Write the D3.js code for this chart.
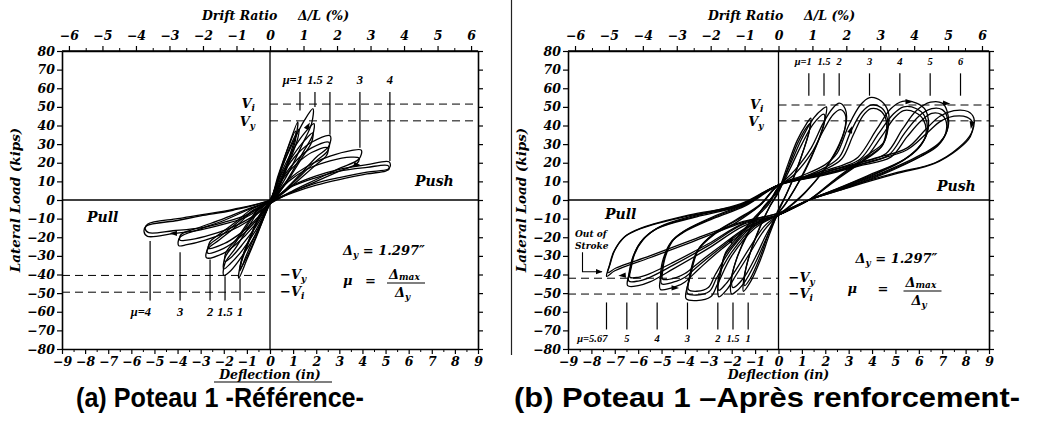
<!DOCTYPE html>
<html lang="fr">
<head>
<meta charset="UTF-8">
<title>Poteau 1 - courbes effort / déplacement</title>
<script src="https://cdn.jsdelivr.net/npm/d3@7/dist/d3.min.js"></script>
<style>
  body { margin: 0; background: #fff; }
  .tk { font-family: "DejaVu Serif", serif; font-style: italic; font-weight: bold; font-size: 12.5px; }
  .lb { font-family: "DejaVu Serif", serif; font-style: italic; font-weight: bold; }
  .mu { font-family: "Liberation Serif", serif; font-style: italic; font-weight: bold; }
  .cap { font-family: "Liberation Sans", Arial, sans-serif; font-weight: bold; font-size: 28px; }
</style>
</head>
<body>
<svg id="chart" width="1038" height="428"></svg>
<script>
// ---- axes / reference values ----
const loadTicks = [-80, -70, -60, -50, -40, -30, -20, -10, 0, 10, 20, 30, 40, 50, 60, 70, 80];
const deflTicks = [-9, -8, -7, -6, -5, -4, -3, -2, -1, 0, 1, 2, 3, 4, 5, 6, 7, 8, 9];
const driftTicks = [-6, -5, -4, -3, -2, -1, 0, 1, 2, 3, 4, 5, 6];
const inPerPct = 1.45;     // 1 % drift = 1.45 in
const deltaY = 1.297;      // yield displacement (in)

// load levels V_i, V_y, -V_y, -V_i (kips)
const vLevelsA = [51.5, 42.5, -40.5, -49.5];
const vLevelsB = [51, 42.5, -42, -50.5];

// ductility markers: mu, end of line on the loop (kips)
const muTopA = [1, 1.5, 2, 3, 4];
const muTopEndA = [48, 50, 35, 28, 21];
const muBotA = [4, 3, 2, 1.5, 1];
const muBotEndA = [-22, -28, -32, -41, -42];
const muTopB = [1, 1.5, 2, 3, 4, 5, 6];
const muBotB = [5.67, 5, 4, 3, 2, 1.5, 1];

// ---- (a) reference column: cycles [deflection in, load kips] ----
const aMu1c1 = [[0,-1],[0.4,14],[0.8,29],[1.2,42],[1.15,36],[0.8,22],[0.4,8],[0,-1],[-0.5,-17],[-1.0,-32],[-1.35,-42],[-1.3,-36],[-0.9,-22],[-0.4,-8]];
const aMu1c2 = [[0,-1],[0.45,15],[0.85,28],[1.25,38],[1.2,33],[0.85,21],[0.4,7],[0,-1.5],[-0.5,-15],[-1.0,-29],[-1.3,-38],[-1.25,-33],[-0.85,-20],[-0.4,-7]];
const aMu1c3 = [[0,-1],[0.35,13],[0.75,27],[1.1,37],[1.1,32],[0.75,19],[0.35,6],[0,-2],[-0.45,-15],[-0.9,-28],[-1.25,-36],[-1.2,-31],[-0.8,-18],[-0.35,-6]];
const aMu15c1 = [[0,0],[0.5,17],[1.0,31],[1.5,43],[1.86,49],[1.8,41],[1.4,30],[0.9,17],[0.4,6],[0,-2],[-0.6,-18],[-1.2,-30],[-1.7,-38],[-2.0,-40.5],[-1.95,-34],[-1.5,-26],[-1.0,-16],[-0.5,-6]];
const aMu15c2 = [[0,0],[0.5,15],[1.0,27],[1.5,36],[1.9,41],[1.85,35],[1.45,26],[0.95,15],[0.45,5],[0,-2],[-0.6,-16],[-1.2,-27],[-1.7,-34],[-2.0,-37],[-1.95,-31],[-1.5,-23],[-1.0,-14],[-0.5,-5]];
const aMu15c3 = [[0,0],[0.5,14],[1.0,24],[1.5,32],[1.85,36],[1.8,31],[1.4,23],[0.9,13],[0.4,4],[0,-2],[-0.6,-14],[-1.2,-24],[-1.7,-31],[-1.95,-33],[-1.9,-28],[-1.45,-21],[-0.95,-12],[-0.45,-4]];
const aMu2c1 = [[0,0],[0.6,15],[1.2,25],[1.8,31],[2.6,34.5],[2.55,29],[2.0,23],[1.4,15],[0.7,6],[0,-2],[-0.7,-14],[-1.4,-23],[-2.0,-28.5],[-2.75,-31],[-2.7,-26.5],[-2.2,-21.5],[-1.5,-14.5],[-0.8,-6.5]];
const aMu2c2 = [[0,0],[0.6,13],[1.2,22],[1.8,28],[2.55,31],[2.5,26.5],[2.0,21],[1.4,14],[0.7,5.5],[0,-2],[-0.7,-12.5],[-1.4,-21],[-2.0,-26],[-2.7,-28.5],[-2.65,-24.5],[-2.2,-20],[-1.5,-13],[-0.8,-6]];
const aMu2c3 = [[0,0],[0.6,12],[1.2,20],[1.8,25.5],[2.5,28],[2.45,24],[2.0,19],[1.4,12.5],[0.7,5],[0,-2],[-0.7,-11.5],[-1.4,-19],[-2.0,-23.5],[-2.65,-26],[-2.6,-22.5],[-2.15,-18],[-1.5,-12],[-0.8,-5]];
const aMu3c1 = [[0,0],[0.8,11],[1.6,18],[2.6,23.5],[3.5,26.5],[3.95,26.8],[3.85,22],[3.0,17],[2.0,11],[1.0,5],[0,-2],[-0.9,-11],[-1.8,-17],[-2.8,-21.5],[-3.6,-24],[-3.95,-24.5],[-3.9,-20],[-3.0,-15.5],[-2.0,-11],[-1.0,-5.5]];
const aMu3c2 = [[0,0],[0.8,10],[1.6,16.5],[2.6,21],[3.5,23],[3.85,22.5],[3.75,19.5],[3.0,15.5],[2.0,10],[1.0,4.5],[0,-2],[-0.9,-10],[-1.8,-15.5],[-2.8,-19.5],[-3.6,-21.5],[-3.9,-21.5],[-3.85,-18.5],[-3.0,-14.5],[-2.0,-10],[-1.0,-5]];
const aMu4c1 = [[0,0],[1.0,8],[2.0,13],[3.0,16.5],[4.2,19],[5.15,20.5],[5.2,18],[5.1,16.5],[4.2,15],[3.0,12],[2.0,9],[1.0,4.5],[0,-1],[-1.0,-9],[-2.0,-13],[-3.0,-16],[-4.2,-18],[-5.3,-19.5],[-5.45,-17],[-5.35,-14],[-4.0,-11],[-3.0,-8.5],[-1.6,-5.5]];
const aMu4c2 = [[0,0],[1.0,7.5],[2.0,12],[3.0,15.5],[4.2,17.5],[5.1,18.5],[5.15,16.5],[5.0,15.5],[4.2,14],[3.0,11],[2.0,8],[1.0,4],[0,-1],[-1.0,-8],[-2.0,-12],[-3.0,-15],[-4.2,-16.5],[-5.25,-17.5],[-5.4,-15.5],[-5.3,-13],[-4.0,-10],[-3.0,-8],[-1.6,-5]];

// ---- (b) strengthened column ----
const bMu1c1 = [[0,5],[0.4,19],[0.8,32],[1.2,41],[1.38,44],[1.35,39],[1.1,28],[0.7,14],[0.3,2],[0,-6],[-0.4,-19],[-0.8,-33],[-1.2,-44],[-1.5,-49],[-1.5,-44],[-1.3,-32],[-0.9,-18],[-0.4,-4]];
const bMu1c2 = [[0,4],[0.4,17],[0.8,30],[1.2,39],[1.35,41],[1.3,36],[1.05,26],[0.65,12],[0.25,1],[0,-5],[-0.4,-17],[-0.8,-31],[-1.2,-42],[-1.45,-46],[-1.45,-41],[-1.25,-30],[-0.85,-16],[-0.35,-3]];
const bMu15c1 = [[0,6],[0.5,19],[1.0,33],[1.5,44],[1.9,49],[2.05,50],[2.0,44],[1.7,32],[1.2,18],[0.7,6],[0.3,-2],[0,-7],[-0.5,-20],[-1.0,-34],[-1.5,-45],[-1.9,-50],[-2.0,-50.5],[-2.05,-45],[-1.8,-32],[-1.3,-18],[-0.7,-5]];
const bMu15c2 = [[0,5],[0.5,17],[1.0,30],[1.5,41],[1.95,46],[1.95,41],[1.65,30],[1.15,16],[0.65,5],[0.25,-3],[0,-7],[-0.5,-18],[-1.0,-31],[-1.5,-42],[-1.95,-47],[-2.0,-42],[-1.75,-30],[-1.25,-16],[-0.65,-4]];
const bMu2c1 = [[0,7],[0.7,16],[1.4,28],[1.9,41],[2.3,49],[2.6,52],[2.85,49],[2.9,42],[2.6,30],[2.0,17],[1.2,5],[0.6,-2],[0,-8],[-0.6,-16],[-1.2,-28],[-1.8,-40],[-2.2,-48],[-2.55,-52],[-2.6,-48],[-2.45,-38],[-2.3,-30],[-1.8,-22],[-1.0,-10],[-0.4,-2]];
const bMu2c2 = [[0,7],[0.7,14],[1.4,25],[1.95,38],[2.35,46],[2.65,48.5],[2.85,46],[2.85,39],[2.55,28],[1.95,16],[1.15,4],[0.55,-3],[0,-8],[-0.6,-14],[-1.25,-26],[-1.85,-38],[-2.25,-45],[-2.55,-48.5],[-2.6,-45],[-2.45,-36],[-2.25,-28],[-1.75,-20],[-1.0,-9],[-0.4,-1]];
const bMu3c1 = [[0,8],[1.0,13],[2.0,19],[2.5,25],[3.0,40],[3.5,51],[3.9,55],[4.4,53],[4.7,47],[4.7,40],[4.5,31],[3.8,24],[2.5,12],[1.3,0],[0,-8],[-1.0,-15],[-2.0,-30],[-2.6,-45],[-2.9,-52],[-3.5,-54],[-3.95,-53],[-3.85,-44],[-3.5,-28],[-2.8,-19],[-1.8,-12],[-0.8,-3]];
const bMu3c2 = [[0,8],[1.0,12],[2.0,17.5],[2.6,23],[3.1,37],[3.55,47],[3.95,51],[4.4,49.5],[4.65,44],[4.65,37],[4.45,29.5],[3.8,23],[2.5,11.5],[1.3,0],[0,-8],[-1.0,-14],[-2.0,-28],[-2.65,-42],[-2.95,-49],[-3.5,-51],[-3.9,-50],[-3.8,-42],[-3.45,-27],[-2.75,-18],[-1.8,-11],[-0.8,-3]];
const bMu3c3 = [[0,8],[1.0,11.5],[2.0,16.5],[2.7,22],[3.2,35],[3.6,45],[3.95,49],[4.35,48],[4.6,43],[4.6,36],[4.4,28.5],[3.75,22],[2.5,11],[1.3,0],[0,-8],[-1.0,-13],[-2.0,-26],[-2.7,-40],[-3.0,-47],[-3.5,-49],[-3.85,-48],[-3.75,-40],[-3.4,-26],[-2.7,-17.5],[-1.8,-10.5],[-0.8,-2.5]];
const bMu4c1 = [[0,8],[1.5,14],[2.8,19],[3.4,23],[4.2,38],[4.8,49],[5.3,53],[5.9,52],[6.3,48],[6.4,38],[6.1,30],[5.4,22],[3.8,13],[2.3,5],[1.3,0],[0,-8],[-1.2,-15],[-2.4,-26],[-3.4,-37],[-4.0,-44],[-4.3,-46],[-5.05,-48],[-5.05,-42],[-4.97,-33.5],[-4.6,-22.7],[-4.05,-17.3],[-2.8,-10],[-1.4,-3]];
const bMu4c2 = [[0,8],[1.5,13],[2.8,18],[3.5,22],[4.3,36],[4.9,46],[5.35,50],[5.9,49],[6.25,45],[6.35,36],[6.05,29],[5.35,21.5],[3.8,12.5],[2.3,5],[1.3,0],[0,-8],[-1.2,-14],[-2.4,-25],[-3.4,-35],[-4.0,-41.5],[-4.35,-43.5],[-5.0,-45],[-5.0,-40],[-4.9,-32],[-4.55,-22],[-4.0,-16.5],[-2.8,-9.5],[-1.4,-2.5]];
const bMu4c3 = [[0,8],[1.5,12.5],[2.8,17],[3.6,21],[4.4,34],[4.95,44],[5.35,48],[5.85,47],[6.2,43],[6.3,35],[6.0,28],[5.3,21],[3.8,12],[2.3,4.5],[1.3,0],[0,-8],[-1.2,-13.5],[-2.4,-24],[-3.4,-33.5],[-4.0,-39.5],[-4.35,-41.5],[-4.95,-42.5],[-4.95,-38],[-4.85,-31],[-4.5,-21.5],[-3.95,-16],[-2.8,-9],[-1.4,-2]];
const bMu5c1 = [[0,8],[2.0,15],[3.5,20],[4.6,25],[5.3,38],[5.9,48],[6.5,52.5],[7.0,52],[7.2,48],[7.25,39],[6.9,31],[6.2,25],[4.5,15],[2.8,7],[1.3,0],[0,-8],[-1.5,-14],[-3.0,-26],[-4.5,-37],[-5.5,-44],[-6.0,-46],[-6.45,-46],[-6.4,-40],[-6.25,-31.5],[-5.9,-22.7],[-5.2,-15.4],[-3.5,-9],[-1.6,-3]];
const bMu5c2 = [[0,8],[2.0,14],[3.5,19],[4.7,24],[5.4,36],[6.0,45],[6.55,49],[7.0,48.5],[7.2,45],[7.2,37],[6.85,30],[6.15,24],[4.5,14.5],[2.8,6.5],[1.3,0],[0,-8],[-1.5,-13],[-3.0,-24.5],[-4.5,-35],[-5.5,-41.5],[-6.0,-43.5],[-6.4,-43.5],[-6.35,-38],[-6.2,-30],[-5.85,-22],[-5.15,-15],[-3.5,-8.5],[-1.6,-2.5]];
const bMu5c3 = [[0,8],[2.0,13.5],[3.5,18.5],[4.8,23],[5.5,34],[6.1,42.5],[6.55,46.5],[6.95,46],[7.15,43],[7.15,36],[6.8,29],[6.1,23.5],[4.5,14],[2.8,6],[1.3,0],[0,-8],[-1.5,-12.5],[-3.0,-23.5],[-4.5,-33.5],[-5.5,-39.5],[-6.0,-41.5],[-6.35,-41.5],[-6.3,-36.5],[-6.15,-29],[-5.8,-21.5],[-5.1,-14.5],[-3.5,-8],[-1.6,-2]];
const bMu6c1 = [[0,8],[2.0,15],[4.0,22],[5.5,28],[6.3,38],[6.9,45],[7.5,48],[8.1,47.5],[8.35,44],[8.25,36],[7.7,28],[6.7,20],[5.0,14.5],[3.2,8],[1.3,0],[0,-7],[-1.5,-12],[-3.8,-23],[-5.5,-31],[-7.0,-38],[-7.35,-41],[-7.25,-36],[-7.05,-28],[-6.6,-20],[-5.9,-15.4],[-3.8,-8.4],[-1.6,-3]];
const bMu6c2 = [[0,8],[2.0,14],[4.0,21],[5.5,27],[6.35,36],[6.95,42.5],[7.5,45],[8.05,44.5],[8.3,41.5],[8.2,34],[7.65,27],[6.65,19.5],[5.0,14],[3.2,7.5],[1.3,0],[0,-7],[-1.5,-11.5],[-3.8,-22],[-5.5,-30],[-6.95,-36.5],[-7.3,-39],[-7.2,-34.5],[-7.0,-27],[-6.55,-19.5],[-5.85,-15],[-3.8,-8],[-1.6,-2.5]];
const outOfStroke = [[-8.38, -28], [-8.38, -38.5], [-7.55, -38.5]];
// direction arrows on the loops: deflection, load, angle (deg)
const arrowsB = [[5.6, 52.8, 0], [7.2, 51.8, 5], [8.25, 40, 100], [-6.7, -40.5, 175], [-4.4, -47.2, 0], [-2.0, -21, -60], [3.1, 38, -70]];
const arrowsA = [[1.65, 40, -60], [-4.2, -17.9, 180], [3.8, 18.8, 10]];

const loopsA = [aMu1c1, aMu1c2, aMu1c3, aMu15c1, aMu15c2, aMu15c3, aMu2c1, aMu2c2, aMu2c3, aMu3c1, aMu3c2, aMu4c1, aMu4c2];
const loopsB = [bMu1c1, bMu1c2, bMu15c1, bMu15c2, bMu2c1, bMu2c2, bMu3c1, bMu3c2, bMu3c3, bMu4c1, bMu4c2, bMu4c3, bMu5c1, bMu5c2, bMu5c3, bMu6c1, bMu6c2];

const svg = d3.select('#chart');
svg.append('defs').append('marker')
    .attr('id', 'arr').attr('viewBox', '0 0 10 10').attr('refX', 9).attr('refY', 5)
    .attr('markerWidth', 7).attr('markerHeight', 6).attr('orient', 'auto')
    .append('path').attr('d', 'M0,1L10,5L0,9z').attr('fill', '#000');

function styleAxis(g) {
    g.selectAll('path.domain').attr('stroke-width', 1.6);
    g.selectAll('.tick line').attr('stroke-width', 1.2);
    g.selectAll('text').attr('class', 'tk').attr('fill', '#000');
}

function drawPanel(p) {
    const x = d3.scaleLinear().domain([-9, 9]).range([p.left, p.right]);
    const y = d3.scaleLinear().domain([-80, 80]).range([349, 51]);
    const drift = d3.scaleLinear().domain([-9 / inPerPct, 9 / inPerPct]).range([p.left, p.right]);
    const g = svg.append('g');

    // minor ticks
    g.append('g').attr('transform', `translate(0,${y(-80)})`)
        .call(d3.axisBottom(x).tickValues(d3.range(-8.5, 9, 1)).tickSize(3).tickFormat('').tickSizeOuter(0))
        .call(s => s.select('.domain').remove());
    g.append('g').attr('transform', `translate(0,${y(80)})`)
        .call(d3.axisTop(drift).tickValues(d3.range(-5.5, 6, 1)).tickSize(3).tickFormat('').tickSizeOuter(0))
        .call(s => s.select('.domain').remove());

    g.append('g').attr('transform', `translate(0,${y(-80)})`)
        .call(d3.axisBottom(x).tickValues(deflTicks).tickSize(5).tickPadding(3).tickSizeOuter(0))
        .call(styleAxis);
    g.append('g').attr('transform', `translate(0,${y(80)})`)
        .call(d3.axisTop(drift).tickValues(driftTicks).tickSize(5).tickPadding(6).tickSizeOuter(0))
        .call(styleAxis);
    g.append('g').attr('transform', `translate(${p.left},0)`)
        .call(d3.axisLeft(y).tickValues(loadTicks).tickSize(5).tickPadding(2).tickSizeOuter(0))
        .call(styleAxis);
    g.append('g').attr('transform', `translate(${p.right},0)`)
        .call(d3.axisRight(y).tickValues(loadTicks).tickSize(5).tickFormat('').tickSizeOuter(0))
        .call(styleAxis);
    g.append('line').attr('x1', p.left).attr('x2', p.right).attr('y1', y(80)).attr('y2', y(80))
        .attr('stroke', '#000').attr('stroke-width', 1.6);

    // zero lines
    g.append('line').attr('x1', x(0)).attr('x2', x(0)).attr('y1', y(80)).attr('y2', y(-80))
        .attr('stroke', '#000').attr('stroke-width', 1.3);
    g.append('line').attr('x1', p.left).attr('x2', p.right).attr('y1', y(0)).attr('y2', y(0))
        .attr('stroke', '#000').attr('stroke-width', 1.3);

    // dashed V levels
    p.vLevels.forEach(v => {
        g.append('line')
            .attr('x1', v > 0 ? x(0) : p.left).attr('x2', v > 0 ? p.right : x(0))
            .attr('y1', y(v)).attr('y2', y(v))
            .attr('stroke', '#000').attr('stroke-width', 1).attr('stroke-dasharray', '8,5');
    });

    // hysteresis loops
    const line = d3.line().x(d => x(d[0])).y(d => y(d[1])).curve(d3.curveCatmullRomClosed.alpha(0.5));
    g.append('g').selectAll('path').data(p.loops).join('path')
        .attr('d', line).attr('fill', 'none').attr('stroke', '#000')
        .attr('stroke-width', 1.3).attr('stroke-linejoin', 'round');
    g.append('g').selectAll('path').data(p.arrows).join('path')
        .attr('d', 'M-4,-2.6L3.5,0L-4,2.6Z').attr('fill', '#000')
        .attr('transform', d => `translate(${x(d[0])},${y(d[1])}) rotate(${d[2]})`);

    // mu markers
    p.muTop.forEach((m, i) => {
        const xm = x(m * deltaY);
        g.append('line').attr('x1', xm).attr('x2', xm)
            .attr('y1', y(p.muTopRange[0])).attr('y2', y(p.muTopEnd ? p.muTopEnd[i] : p.muTopRange[1]))
            .attr('stroke', '#000').attr('stroke-width', 1.2);
        g.append('text').attr('class', 'mu').attr('font-size', p.muFont)
            .attr('x', i === 0 ? xm + 3 : xm).attr('y', y(p.muTopLabel))
            .attr('text-anchor', i === 0 ? 'end' : 'middle')
            .text(i === 0 ? 'μ=' + m : m);
    });
    p.muBot.forEach((m, i) => {
        const xm = x(-m * deltaY);
        g.append('line').attr('x1', xm).attr('x2', xm)
            .attr('y1', y(p.muBotEnd ? p.muBotEnd[i] : p.muBotRange[0])).attr('y2', y(p.muBotRange[1]))
            .attr('stroke', '#000').attr('stroke-width', 1.2);
        g.append('text').attr('class', 'mu').attr('font-size', p.muFont)
            .attr('x', i === 0 ? xm + 1 : xm).attr('y', y(p.muBotLabel))
            .attr('text-anchor', i === 0 ? 'end' : 'middle')
            .text(i === 0 ? 'μ=' + m : m);
    });

    // axis titles
    const t = g.append('text').attr('class', 'lb').attr('font-size', 12.5).attr('font-weight', 'normal')
        .attr('y', 20);
    t.append('tspan').attr('x', p.left + 140).text('Drift  Ratio');
    t.append('tspan').attr('x', p.left + 236).text('Δ/L (%)');
    g.append('text').attr('class', 'lb').attr('font-size', 13.5)
        .attr('transform', `translate(${p.left - 42},${y(0)}) rotate(-90)`)
        .attr('text-anchor', 'middle').text('Lateral Load (kips)');
    g.append('text').attr('class', 'lb').attr('font-size', 12.5)
        .attr('x', x(0)).attr('y', 379).attr('text-anchor', 'middle').text('Deflection (in)');
    if (p.underline) {
        g.append('line').attr('x1', x(0) - 56).attr('x2', x(0) + 62).attr('y1', 382).attr('y2', 382)
            .attr('stroke', '#000').attr('stroke-width', 1.1);
    }

    // in-plot labels
    g.append('text').attr('class', 'lb').attr('font-size', 14).attr('x', p.pull[0]).attr('y', p.pull[1]).text('Pull');
    g.append('text').attr('class', 'lb').attr('font-size', 14).attr('x', p.push[0]).attr('y', p.push[1]).text('Push');

    function vLabel(xp, yp, sign, sub, anchor) {
        const tx = g.append('text').attr('class', 'lb').attr('font-size', 13)
            .attr('x', xp).attr('y', yp).attr('text-anchor', anchor);
        tx.append('tspan').text(sign + 'V');
        tx.append('tspan').attr('font-size', 9).attr('dy', 3).text(sub);
    }
    vLabel(x(0) - 15, y(p.vLevels[0]) + 4, '', 'i', 'end');
    vLabel(x(0) - 15, y(p.vLevels[1]) + 5, '', 'y', 'end');
    vLabel(x(0) + 10, y(p.vLevels[2]) + 4, '−', 'y', 'start');
    vLabel(x(0) + 10, y(p.vLevels[3]) + 4, '−', 'i', 'start');

    // delta_y and mu definition
    const dx0 = x(0) + p.defX;
    const d1 = g.append('text').attr('class', 'lb').attr('font-size', 13).attr('x', dx0).attr('y', p.defY);
    d1.append('tspan').text('Δ');
    d1.append('tspan').attr('font-size', 9).attr('dy', 3).text('y');
    d1.append('tspan').attr('dy', -3).text(p.defEq + '1.297″');
    const my = p.defY + p.muDy;
    g.append('text').attr('class', 'lb').attr('font-size', 13).attr('x', dx0 - p.muBack).attr('y', my).text('μ');
    g.append('text').attr('class', 'lb').attr('font-size', 13).attr('x', dx0 - p.muBack + p.eqX).attr('y', my).text('=');
    const fx = dx0 - p.muBack + p.fracX;
    const n1 = g.append('text').attr('class', 'lb').attr('font-size', 13).attr('x', fx).attr('y', my - 6);
    n1.append('tspan').text('Δ');
    n1.append('tspan').attr('font-size', 9).attr('dy', 1).text('max');
    g.append('line').attr('x1', fx - 2).attr('x2', fx + 36).attr('y1', my - 2).attr('y2', my - 2)
        .attr('stroke', '#000').attr('stroke-width', 1.1);
    const n2 = g.append('text').attr('class', 'lb').attr('font-size', 13).attr('x', fx + 6).attr('y', my + 12);
    n2.append('tspan').text('Δ');
    n2.append('tspan').attr('font-size', 9).attr('dy', 3).text('y');

    if (p.outOfStroke) {
        g.append('path').attr('d', d3.line().x(d => x(d[0])).y(d => y(d[1]))(p.outOfStroke))
            .attr('fill', 'none').attr('stroke', '#000').attr('stroke-width', 1.1).attr('marker-end', 'url(#arr)');
        g.append('text').attr('class', 'lb').attr('font-size', 9).attr('x', 575).attr('y', 237).text('Out of');
        g.append('text').attr('class', 'lb').attr('font-size', 9).attr('x', 575).attr('y', 249).text('Stroke');
    }

    g.append('text').attr('class', 'cap').attr('x', p.capX).attr('y', 407)
        .attr('text-anchor', 'middle').attr('textLength', p.capLen).attr('lengthAdjust', 'spacingAndGlyphs')
        .text(p.caption);
}

drawPanel({
    left: 62, right: 478, loops: loopsA, vLevels: vLevelsA, arrows: arrowsA,
    muTop: muTopA, muTopEnd: muTopEndA, muTopRange: [58, 0], muTopLabel: 62.4,
    muBot: muBotA, muBotEnd: muBotEndA, muBotRange: [0, -54], muBotLabel: -62.4, muFont: 12.5,
    pull: [87, 222], push: [415, 186], underline: true,
    defX: 73, defY: 255, defEq: ' = ', muDy: 30, muBack: 0, eqX: 22, fracX: 46,
    caption: '(a) Poteau 1 -Référence-', capX: 220, capLen: 288
});
drawPanel({
    left: 568, right: 989, loops: loopsB, vLevels: vLevelsB, arrows: arrowsB,
    muTop: muTopB, muTopRange: [68, 56], muTopLabel: 72.6,
    muBot: muBotB, muBotRange: [-55, -69.5], muBotLabel: -76.4, muFont: 10.5,
    pull: [605, 219], push: [937, 191], underline: false,
    defX: 77, defY: 263, defEq: '  =  ', muDy: 30, muBack: 8, eqX: 30, fracX: 58,
    outOfStroke: outOfStroke,
    caption: '(b) Poteau 1 –Après renforcement-', capX: 767, capLen: 506
});

// frame edge of the second figure
svg.append('line').attr('x1', 511.5).attr('x2', 511.5).attr('y1', 0).attr('y2', 355)
    .attr('stroke', '#222').attr('stroke-width', 1.2);
</script>
</body>
</html>
